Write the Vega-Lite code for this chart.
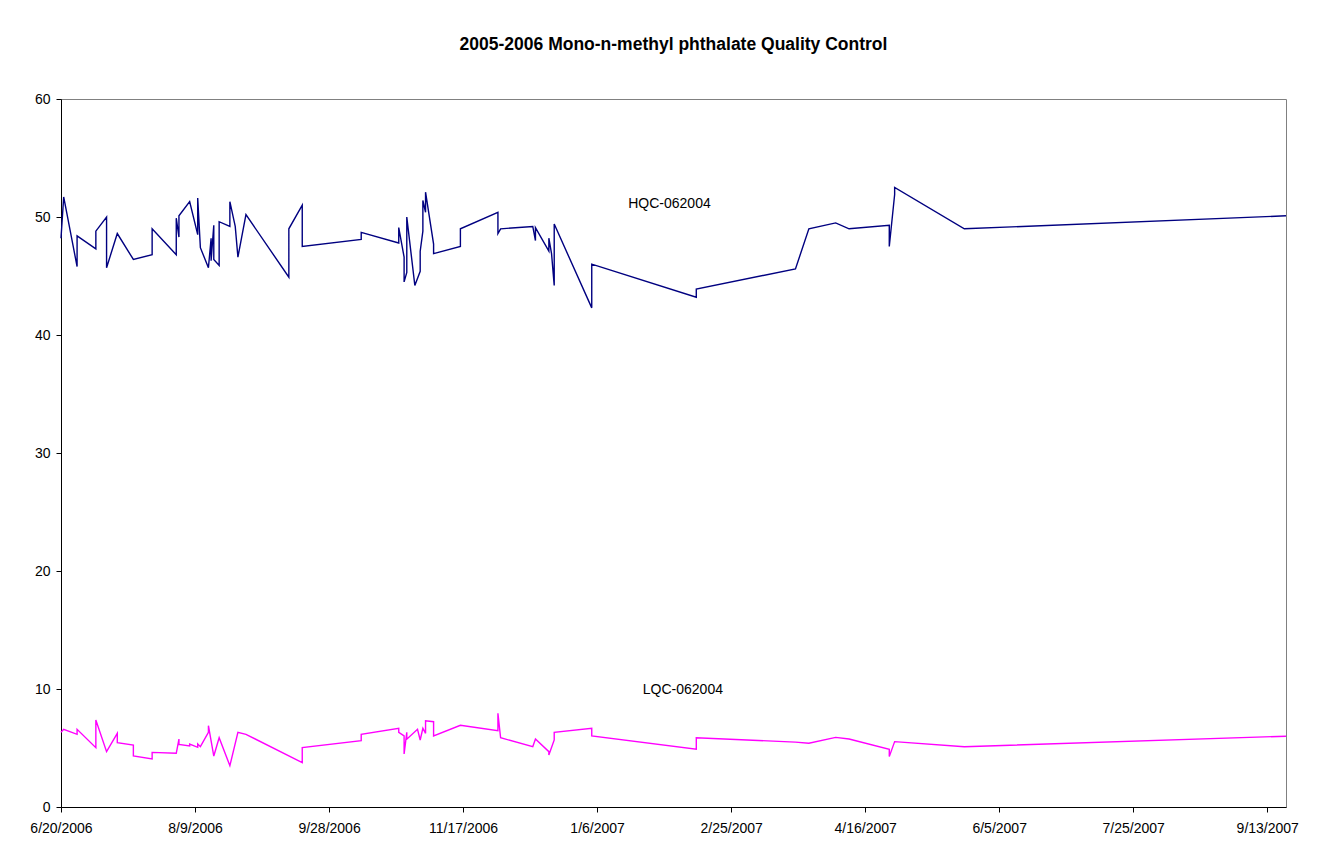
{
  "$schema": "https://vega.github.io/schema/vega-lite/v6.json",
  "width": 1225,
  "height": 708,
  "autosize": {"type": "none"},
  "padding": {"left": 61, "top": 99, "right": 53, "bottom": 44},
  "background": "white",
  "title": {"text": "2005-2006 Mono-n-methyl phthalate Quality Control", "font": "Liberation Sans", "fontSize": 17.5, "fontWeight": "bold", "anchor": "middle", "offset": 39, "color": "black"},
  "config": {
    "view": {"stroke": "#808080", "strokeWidth": 1},
    "axis": {"grid": false, "domainColor": "black", "tickColor": "black", "labelColor": "black", "labelFont": "Liberation Sans", "labelFontSize": 14, "tickSize": 5, "title": null}
  },
  "datasets": {
    "qc": [
      {"series": "HQC-062004", "i": 1, "date": "2006-06-20", "value": 48.2},
      {"series": "HQC-062004", "i": 2, "date": "2006-06-21", "value": 51.7},
      {"series": "HQC-062004", "i": 3, "date": "2006-06-26", "value": 45.8},
      {"series": "HQC-062004", "i": 4, "date": "2006-06-26", "value": 48.4},
      {"series": "HQC-062004", "i": 5, "date": "2006-07-03", "value": 47.3},
      {"series": "HQC-062004", "i": 6, "date": "2006-07-03", "value": 48.8},
      {"series": "HQC-062004", "i": 7, "date": "2006-07-07", "value": 50.0},
      {"series": "HQC-062004", "i": 8, "date": "2006-07-07", "value": 45.7},
      {"series": "HQC-062004", "i": 9, "date": "2006-07-11", "value": 48.6},
      {"series": "HQC-062004", "i": 10, "date": "2006-07-17", "value": 46.4},
      {"series": "HQC-062004", "i": 11, "date": "2006-07-24", "value": 46.8},
      {"series": "HQC-062004", "i": 12, "date": "2006-07-24", "value": 49.0},
      {"series": "HQC-062004", "i": 13, "date": "2006-08-02", "value": 46.8},
      {"series": "HQC-062004", "i": 14, "date": "2006-08-02", "value": 49.9},
      {"series": "HQC-062004", "i": 15, "date": "2006-08-03", "value": 48.3},
      {"series": "HQC-062004", "i": 16, "date": "2006-08-03", "value": 50.1},
      {"series": "HQC-062004", "i": 17, "date": "2006-08-07", "value": 51.3},
      {"series": "HQC-062004", "i": 18, "date": "2006-08-10", "value": 48.5},
      {"series": "HQC-062004", "i": 19, "date": "2006-08-10", "value": 51.6},
      {"series": "HQC-062004", "i": 20, "date": "2006-08-11", "value": 47.4},
      {"series": "HQC-062004", "i": 21, "date": "2006-08-14", "value": 45.7},
      {"series": "HQC-062004", "i": 22, "date": "2006-08-15", "value": 48.2},
      {"series": "HQC-062004", "i": 23, "date": "2006-08-15", "value": 46.3},
      {"series": "HQC-062004", "i": 24, "date": "2006-08-16", "value": 49.3},
      {"series": "HQC-062004", "i": 25, "date": "2006-08-16", "value": 46.4},
      {"series": "HQC-062004", "i": 26, "date": "2006-08-18", "value": 45.9},
      {"series": "HQC-062004", "i": 27, "date": "2006-08-18", "value": 49.6},
      {"series": "HQC-062004", "i": 28, "date": "2006-08-22", "value": 49.2},
      {"series": "HQC-062004", "i": 29, "date": "2006-08-22", "value": 51.3},
      {"series": "HQC-062004", "i": 30, "date": "2006-08-24", "value": 49.2},
      {"series": "HQC-062004", "i": 31, "date": "2006-08-25", "value": 46.6},
      {"series": "HQC-062004", "i": 32, "date": "2006-08-28", "value": 50.2},
      {"series": "HQC-062004", "i": 33, "date": "2006-09-13", "value": 44.9},
      {"series": "HQC-062004", "i": 34, "date": "2006-09-13", "value": 49.0},
      {"series": "HQC-062004", "i": 35, "date": "2006-09-18", "value": 51.0},
      {"series": "HQC-062004", "i": 36, "date": "2006-09-18", "value": 47.5},
      {"series": "HQC-062004", "i": 37, "date": "2006-10-10", "value": 48.1},
      {"series": "HQC-062004", "i": 38, "date": "2006-10-10", "value": 48.7},
      {"series": "HQC-062004", "i": 39, "date": "2006-10-24", "value": 47.8},
      {"series": "HQC-062004", "i": 40, "date": "2006-10-24", "value": 49.1},
      {"series": "HQC-062004", "i": 41, "date": "2006-10-26", "value": 46.6},
      {"series": "HQC-062004", "i": 42, "date": "2006-10-26", "value": 44.5},
      {"series": "HQC-062004", "i": 43, "date": "2006-10-27", "value": 45.3},
      {"series": "HQC-062004", "i": 44, "date": "2006-10-27", "value": 50.0},
      {"series": "HQC-062004", "i": 45, "date": "2006-10-30", "value": 44.2},
      {"series": "HQC-062004", "i": 46, "date": "2006-11-01", "value": 45.4},
      {"series": "HQC-062004", "i": 47, "date": "2006-11-01", "value": 47.1},
      {"series": "HQC-062004", "i": 48, "date": "2006-11-02", "value": 48.8},
      {"series": "HQC-062004", "i": 49, "date": "2006-11-02", "value": 51.4},
      {"series": "HQC-062004", "i": 50, "date": "2006-11-03", "value": 50.4},
      {"series": "HQC-062004", "i": 51, "date": "2006-11-03", "value": 52.1},
      {"series": "HQC-062004", "i": 52, "date": "2006-11-06", "value": 47.7},
      {"series": "HQC-062004", "i": 53, "date": "2006-11-06", "value": 46.9},
      {"series": "HQC-062004", "i": 54, "date": "2006-11-16", "value": 47.5},
      {"series": "HQC-062004", "i": 55, "date": "2006-11-16", "value": 49.0},
      {"series": "HQC-062004", "i": 56, "date": "2006-11-30", "value": 50.4},
      {"series": "HQC-062004", "i": 57, "date": "2006-11-30", "value": 48.6},
      {"series": "HQC-062004", "i": 58, "date": "2006-12-01", "value": 49.0},
      {"series": "HQC-062004", "i": 59, "date": "2006-12-13", "value": 49.2},
      {"series": "HQC-062004", "i": 60, "date": "2006-12-14", "value": 48.0},
      {"series": "HQC-062004", "i": 61, "date": "2006-12-14", "value": 49.1},
      {"series": "HQC-062004", "i": 62, "date": "2006-12-19", "value": 47.1},
      {"series": "HQC-062004", "i": 63, "date": "2006-12-19", "value": 48.2},
      {"series": "HQC-062004", "i": 64, "date": "2006-12-20", "value": 46.9},
      {"series": "HQC-062004", "i": 65, "date": "2006-12-21", "value": 44.2},
      {"series": "HQC-062004", "i": 66, "date": "2006-12-21", "value": 49.4},
      {"series": "HQC-062004", "i": 67, "date": "2007-01-04", "value": 42.3},
      {"series": "HQC-062004", "i": 68, "date": "2007-01-04", "value": 46.0},
      {"series": "HQC-062004", "i": 69, "date": "2007-02-12", "value": 43.2},
      {"series": "HQC-062004", "i": 70, "date": "2007-02-12", "value": 43.9},
      {"series": "HQC-062004", "i": 71, "date": "2007-03-21", "value": 45.6},
      {"series": "HQC-062004", "i": 72, "date": "2007-03-26", "value": 49.0},
      {"series": "HQC-062004", "i": 73, "date": "2007-04-05", "value": 49.5},
      {"series": "HQC-062004", "i": 74, "date": "2007-04-10", "value": 49.0},
      {"series": "HQC-062004", "i": 75, "date": "2007-04-25", "value": 49.3},
      {"series": "HQC-062004", "i": 76, "date": "2007-04-25", "value": 47.5},
      {"series": "HQC-062004", "i": 77, "date": "2007-04-27", "value": 51.9},
      {"series": "HQC-062004", "i": 78, "date": "2007-04-27", "value": 52.5},
      {"series": "HQC-062004", "i": 79, "date": "2007-05-23", "value": 49.0},
      {"series": "HQC-062004", "i": 80, "date": "2007-09-20", "value": 50.1},
      {"series": "LQC-062004", "i": 101, "date": "2006-06-20", "value": 6.33},
      {"series": "LQC-062004", "i": 102, "date": "2006-06-21", "value": 6.58},
      {"series": "LQC-062004", "i": 103, "date": "2006-06-26", "value": 6.16},
      {"series": "LQC-062004", "i": 104, "date": "2006-06-26", "value": 6.58},
      {"series": "LQC-062004", "i": 105, "date": "2006-07-03", "value": 5.03},
      {"series": "LQC-062004", "i": 106, "date": "2006-07-03", "value": 7.37},
      {"series": "LQC-062004", "i": 107, "date": "2006-07-07", "value": 4.69},
      {"series": "LQC-062004", "i": 108, "date": "2006-07-11", "value": 6.24},
      {"series": "LQC-062004", "i": 109, "date": "2006-07-11", "value": 5.45},
      {"series": "LQC-062004", "i": 110, "date": "2006-07-17", "value": 5.25},
      {"series": "LQC-062004", "i": 111, "date": "2006-07-17", "value": 4.32},
      {"series": "LQC-062004", "i": 112, "date": "2006-07-24", "value": 4.07},
      {"series": "LQC-062004", "i": 113, "date": "2006-07-24", "value": 4.63},
      {"series": "LQC-062004", "i": 114, "date": "2006-08-02", "value": 4.55},
      {"series": "LQC-062004", "i": 115, "date": "2006-08-03", "value": 5.76},
      {"series": "LQC-062004", "i": 116, "date": "2006-08-03", "value": 5.31},
      {"series": "LQC-062004", "i": 117, "date": "2006-08-07", "value": 5.17},
      {"series": "LQC-062004", "i": 118, "date": "2006-08-07", "value": 5.34},
      {"series": "LQC-062004", "i": 119, "date": "2006-08-10", "value": 5.06},
      {"series": "LQC-062004", "i": 120, "date": "2006-08-10", "value": 5.34},
      {"series": "LQC-062004", "i": 121, "date": "2006-08-11", "value": 5.11},
      {"series": "LQC-062004", "i": 122, "date": "2006-08-14", "value": 6.33},
      {"series": "LQC-062004", "i": 123, "date": "2006-08-14", "value": 6.89},
      {"series": "LQC-062004", "i": 124, "date": "2006-08-16", "value": 4.32},
      {"series": "LQC-062004", "i": 125, "date": "2006-08-18", "value": 5.87},
      {"series": "LQC-062004", "i": 126, "date": "2006-08-22", "value": 3.5},
      {"series": "LQC-062004", "i": 127, "date": "2006-08-25", "value": 6.33},
      {"series": "LQC-062004", "i": 128, "date": "2006-08-28", "value": 6.16},
      {"series": "LQC-062004", "i": 129, "date": "2006-09-18", "value": 3.76},
      {"series": "LQC-062004", "i": 130, "date": "2006-09-18", "value": 5.03},
      {"series": "LQC-062004", "i": 131, "date": "2006-10-10", "value": 5.62},
      {"series": "LQC-062004", "i": 132, "date": "2006-10-10", "value": 6.16},
      {"series": "LQC-062004", "i": 133, "date": "2006-10-24", "value": 6.67},
      {"series": "LQC-062004", "i": 134, "date": "2006-10-24", "value": 6.33},
      {"series": "LQC-062004", "i": 135, "date": "2006-10-26", "value": 6.02},
      {"series": "LQC-062004", "i": 136, "date": "2006-10-26", "value": 4.49},
      {"series": "LQC-062004", "i": 137, "date": "2006-10-27", "value": 6.33},
      {"series": "LQC-062004", "i": 138, "date": "2006-10-27", "value": 5.74},
      {"series": "LQC-062004", "i": 139, "date": "2006-10-31", "value": 6.58},
      {"series": "LQC-062004", "i": 140, "date": "2006-11-01", "value": 5.68},
      {"series": "LQC-062004", "i": 141, "date": "2006-11-02", "value": 6.67},
      {"series": "LQC-062004", "i": 142, "date": "2006-11-03", "value": 6.24},
      {"series": "LQC-062004", "i": 143, "date": "2006-11-03", "value": 7.31},
      {"series": "LQC-062004", "i": 144, "date": "2006-11-06", "value": 7.23},
      {"series": "LQC-062004", "i": 145, "date": "2006-11-06", "value": 6.02},
      {"series": "LQC-062004", "i": 146, "date": "2006-11-16", "value": 6.92},
      {"series": "LQC-062004", "i": 147, "date": "2006-11-30", "value": 6.47},
      {"series": "LQC-062004", "i": 148, "date": "2006-11-30", "value": 7.94},
      {"series": "LQC-062004", "i": 149, "date": "2006-12-01", "value": 5.87},
      {"series": "LQC-062004", "i": 150, "date": "2006-12-13", "value": 5.11},
      {"series": "LQC-062004", "i": 151, "date": "2006-12-14", "value": 5.76},
      {"series": "LQC-062004", "i": 152, "date": "2006-12-19", "value": 4.69},
      {"series": "LQC-062004", "i": 153, "date": "2006-12-19", "value": 4.41},
      {"series": "LQC-062004", "i": 154, "date": "2006-12-21", "value": 5.68},
      {"series": "LQC-062004", "i": 155, "date": "2006-12-21", "value": 6.33},
      {"series": "LQC-062004", "i": 156, "date": "2007-01-04", "value": 6.67},
      {"series": "LQC-062004", "i": 157, "date": "2007-01-04", "value": 6.02},
      {"series": "LQC-062004", "i": 158, "date": "2007-02-12", "value": 4.89},
      {"series": "LQC-062004", "i": 159, "date": "2007-02-12", "value": 5.87},
      {"series": "LQC-062004", "i": 160, "date": "2007-03-21", "value": 5.5},
      {"series": "LQC-062004", "i": 161, "date": "2007-03-26", "value": 5.4},
      {"series": "LQC-062004", "i": 162, "date": "2007-04-05", "value": 5.9},
      {"series": "LQC-062004", "i": 163, "date": "2007-04-10", "value": 5.76},
      {"series": "LQC-062004", "i": 164, "date": "2007-04-25", "value": 4.89},
      {"series": "LQC-062004", "i": 165, "date": "2007-04-25", "value": 4.27},
      {"series": "LQC-062004", "i": 166, "date": "2007-04-27", "value": 5.54},
      {"series": "LQC-062004", "i": 167, "date": "2007-05-23", "value": 5.11},
      {"series": "LQC-062004", "i": 168, "date": "2007-09-20", "value": 6.0}
    ],
    "labels": [
      {"label": "HQC-062004", "date": "2007-02-02", "value": 51.1},
      {"label": "LQC-062004", "date": "2007-02-07", "value": 9.9}
    ]
  },
  "layer": [
    {
      "data": {"name": "qc"},
      "mark": {"type": "line", "strokeWidth": 1.4},
      "encoding": {
        "x": {
          "field": "date", "type": "temporal",
          "scale": {"type": "utc", "domain": [{"year": 2006, "month": 6, "date": 20, "utc": true}, {"year": 2007, "month": 9, "date": 20, "utc": true}]},
          "axis": {
            "format": "%-m/%-d/%Y", "labelPadding": 9, "labelOverlap": false, "labelFlush": false,
            "values": [
              {"year": 2006, "month": 6, "date": 20, "utc": true},
              {"year": 2006, "month": 8, "date": 9, "utc": true},
              {"year": 2006, "month": 9, "date": 28, "utc": true},
              {"year": 2006, "month": 11, "date": 17, "utc": true},
              {"year": 2007, "month": 1, "date": 6, "utc": true},
              {"year": 2007, "month": 2, "date": 25, "utc": true},
              {"year": 2007, "month": 4, "date": 16, "utc": true},
              {"year": 2007, "month": 6, "date": 5, "utc": true},
              {"year": 2007, "month": 7, "date": 25, "utc": true},
              {"year": 2007, "month": 9, "date": 13, "utc": true}
            ]
          }
        },
        "y": {
          "field": "value", "type": "quantitative",
          "scale": {"domain": [0, 60], "nice": false},
          "axis": {"values": [0, 10, 20, 30, 40, 50, 60], "labelPadding": 6}
        },
        "color": {"field": "series", "type": "nominal", "scale": {"domain": ["HQC-062004", "LQC-062004"], "range": ["#000080", "#FF00FF"]}, "legend": null},
        "order": {"field": "i", "type": "quantitative"}
      }
    },
    {
      "data": {"name": "labels"},
      "mark": {"type": "text", "font": "Liberation Sans", "fontSize": 14, "color": "black", "align": "center", "baseline": "middle"},
      "encoding": {
        "x": {"field": "date", "type": "temporal"},
        "y": {"field": "value", "type": "quantitative"},
        "text": {"field": "label"}
      }
    }
  ]
}
